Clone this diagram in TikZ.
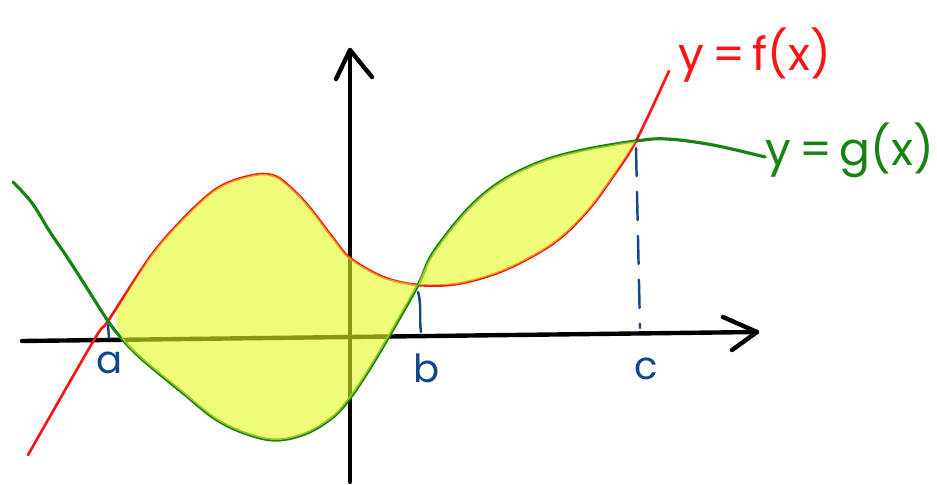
\documentclass[tikz,border=0pt]{standalone}
\usepackage{fontspec}
\setmainfont{Poppins}
\definecolor{fred}{RGB}{250,20,20}
\definecolor{ggreen}{RGB}{25,130,20}
\definecolor{lblue}{RGB}{20,70,140}
\definecolor{hilite}{RGB}{227,250,33}
\tikzset{
  axisline/.style={line width=2.5pt,line cap=round,line join=round,black},
  fcurve/.style={line width=1.5pt,fred,line cap=round,line join=round},
  gcurve/.style={line width=1.8pt,ggreen,line cap=round,line join=round},
  tickline/.style={line width=1.4pt,lblue,line cap=round},
  region/.style={fill=hilite,fill opacity=0.6},
  ptlabel/.style={lblue,font=\fontsize{22}{25}\selectfont,anchor=base,inner sep=0pt},
  fnlabel/.style={font=\fontsize{26}{30}\selectfont,anchor=base,inner sep=0pt}
}
\begin{document}
\begin{tikzpicture}[x=0.02cm,y=-0.02cm]
\useasboundingbox (0,0) rectangle (937,484);
% axes
\coordinate (xs) at (22,341);
\coordinate (xe) at (757,332);
\coordinate (ys) at (350,482);
\coordinate (ye) at (350,50);
\draw[axisline] (xs) -- (xe);
\draw[axisline] (723,317) -- (xe) -- (732,350);
\draw[axisline] (ys) -- (ye);
\draw[axisline] (336,79) -- (ye) -- (372,77);
% curves
\draw[fcurve] plot[smooth,tension=0.55] coordinates {(28,455) (94,340) (108,321) (150,257) (180,222) (207,196) (225,184) (245,177) (263,174) (277,177) (290,187) (305,202) (317,217) (333,238) (350,258) (383,277) (418,285) (457,284) (500,272) (540,252) (565,234) (590,208) (612,178) (636,141) (669,71)};
\draw[gcurve] plot[smooth,tension=0.6] coordinates {(13,182) (32,203) (50,232) (67,257) (85,285) (108,321) (123,340) (143,360) (183,393) (217,420) (250,435) (278,440) (307,433) (333,417) (350,398) (367,373) (388,338) (418,285) (433,253) (467,210) (500,182) (540,162) (583,150) (636,141) (667,139) (713,145) (765,157)};
% shaded regions
\fill[region] plot[smooth,tension=0.55] coordinates {(116,312) (150,257) (180,222) (207,196) (225,184) (245,177) (263,174) (277,177) (290,187) (305,202) (317,217) (333,238) (350,258) (383,277) (418,285)} -- plot[smooth,tension=0.6] coordinates {(418,285) (388,338) (367,373) (350,398) (333,417) (307,433) (278,440) (250,435) (217,420) (183,393) (143,360) (123,340) (116,322)} -- cycle;
\fill[region] plot[smooth,tension=0.55] coordinates {(418,285) (457,284) (500,272) (540,252) (565,234) (590,208) (612,178) (636,141)} -- plot[smooth,tension=0.6] coordinates {(636,141) (583,150) (540,162) (500,182) (467,210) (433,253) (418,285)} -- cycle;
% ticks
\draw[tickline] (108,325) -- (109,338);
\draw[tickline] (418,292) .. controls (422,305) and (419,320) .. (421,332);
\draw[tickline,dash pattern=on 16pt off 9pt] (636,148) -- (640,328);
% labels
\node[ptlabel] (la) at (110,373) {a};
\node[ptlabel] (lb) at (427,382) {b};
\node[ptlabel] (lc) at (646,379) {c};
\node[fnlabel,fred] (lf) at (755,70) {y\,=\,f(x)};
\node[fnlabel,ggreen] (lg) at (850,165) {y\,=\,g(x)};
\end{tikzpicture}
\end{document}
